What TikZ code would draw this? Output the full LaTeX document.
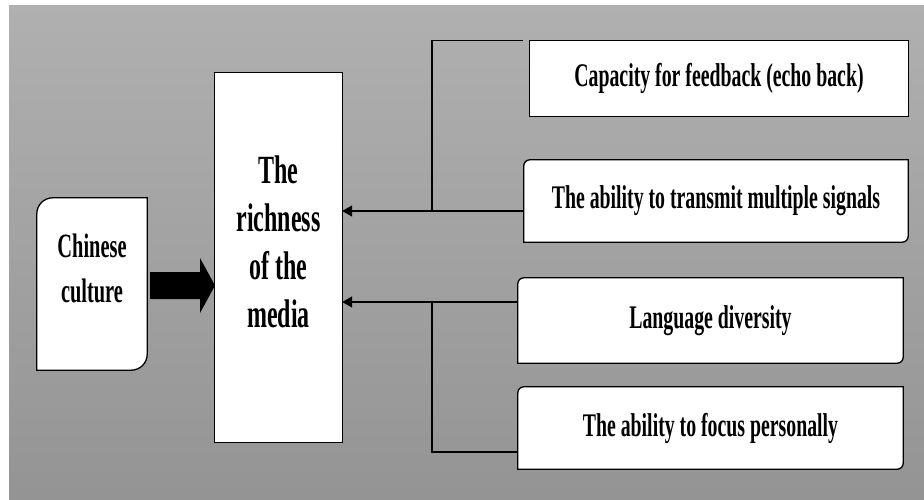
\documentclass[tikz,border=0pt]{standalone}
\usepackage{fontspec}
\setmainfont{Liberation Serif}[FakeStretch=0.6]
\usetikzlibrary{arrows.meta,backgrounds}
\newcommand{\cornerbox}[2]{%
\filldraw[boxline, fill=white] (#1.north east) -- ([xshift=#2]#1.north west)
  arc[start angle=90, end angle=180, radius=#2] -- (#1.south west)
  -- ([xshift=-#2]#1.south east) arc[start angle=270, end angle=360, radius=#2] -- cycle;}

\tikzset{
  boxline/.style={line width=1.3pt, draw=black},
  itembox/.style={inner sep=0pt, align=center, font=\bfseries\fontsize{33}{40}\selectfont},
  mainbox/.style={inner sep=0pt, align=center, text depth=32pt, font=\bfseries\fontsize{40}{48}\selectfont},
  culturebox/.style={inner sep=0pt, align=center, text depth=31pt, font=\bfseries\fontsize{34}{45}\selectfont},
  conn/.style={line width=1.2pt},
  arr/.style={conn, -{Triangle[length=10pt, width=11pt]}}
}

\begin{document}
\begin{tikzpicture}[x=1pt, y=-1pt]
\useasboundingbox (0,0) rectangle (924,499);

\node[culturebox, minimum width=110pt, minimum height=172pt] (ch) at (92,284) 
{Chinese\\culture};
\node[mainbox, minimum width=127pt, minimum height=369pt] (rich) at (278.5,257.5) 
{The\\richness\\of the\\media};

\node[itembox, minimum width=378pt, minimum height=75pt] (fb) at (719,78.5) 
{Capacity for feedback (echo back)};
\node[itembox, minimum width=384pt, minimum height=82pt] (tm) at (716,201) 
{The ability to transmit multiple signals};
\node[itembox, minimum width=385pt, minimum height=85pt] (ld) at (710.5,320.5) 
{Language diversity};
\node[itembox, minimum width=385pt, minimum height=82pt] (fp) at (710.5,428) 
{The ability to focus personally};

\begin{scope}[on background layer]
\shade[top color=black!31, bottom color=black!42] (9,5) rectangle (924,499);
\filldraw[boxline, fill=white] (rich.north west) rectangle (rich.south east);
\filldraw[boxline, fill=white] (fb.north west) rectangle (fb.south east);
\cornerbox{ch}{16pt}
\foreach \b in {tm, ld, fp} {
\cornerbox{\b}{6pt}
}
\end{scope}

% block arrow
\fill (150,272) -- (200,272) -- (200,258) -- (215,285.5) -- (200,313) -- (200,299) -- (150,299) -- cycle;

% upper bracket
\coordinate (jup) at (432,211);
\draw[conn, shorten <=7pt] (fb.north west) -| (jup);
\draw[conn, shorten <=7pt] ([yshift=-10pt]tm.west) -- (tm.west |- jup) -- (jup);
\draw[arr] (jup) -- (rich.east |- jup);

% lower bracket
\coordinate (jlo) at (432,302);
\draw[conn] ([yshift=18.5pt]ld.west) -- (ld.west |- jlo) -- (jlo);
\draw[conn] ([yshift=-24pt]fp.west) -| (jlo);
\draw[arr] (jlo) -- (rich.east |- jlo);

\end{tikzpicture}
\end{document}
